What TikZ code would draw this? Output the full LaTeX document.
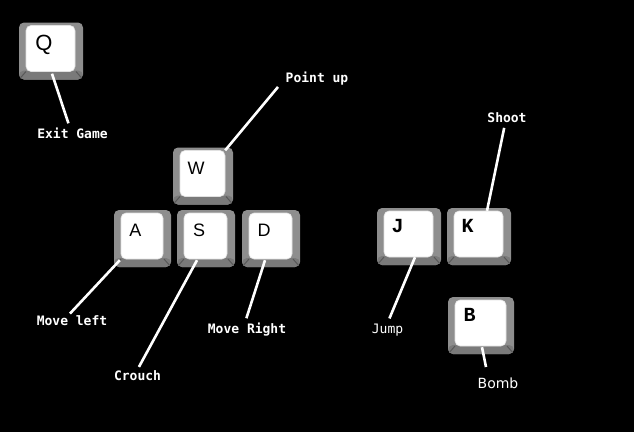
\documentclass[tikz,border=0pt]{standalone}
\usepackage{fontspec}
\newfontfamily\keysans{Liberation Sans}
\newfontfamily\keymono{Liberation Mono}
\newfontfamily\capmono{DejaVu Sans Mono}
\newfontfamily\capsans{DejaVu Sans}

\definecolor{keygray}{RGB}{142,142,142}
\definecolor{keyband}{RGB}{122,122,122}
\definecolor{keyedge}{RGB}{88,88,88}
\definecolor{keyrim}{RGB}{225,225,225}

\tikzset{
	keycap/.style={rectangle, rounded corners=5pt, fill=keygray, inner sep=0pt,
		minimum width=#1, minimum height=57pt,
		path picture={
			\fill[keyband] ([yshift=9pt]path picture bounding box.south west) rectangle (path picture bounding box.south east);
			\draw[keyedge, line width=1pt] ([xshift=7pt,yshift=8pt]path picture bounding box.south west) -- (path picture bounding box.south west);
			\draw[keyedge, line width=1pt] ([xshift=-7pt,yshift=8pt]path picture bounding box.south east) -- (path picture bounding box.south east);
			\filldraw[fill=white, draw=keyrim, line width=0.6pt, rounded corners=5pt] ([xshift=7pt,yshift=8pt]path picture bounding box.south west) rectangle ([xshift=-8pt,yshift=-3pt]path picture bounding box.north east);
		}},
	sansletter/.style={text=black, inner sep=0pt, text depth=0pt, xshift=-7pt, yshift=8pt},
	monoletter/.style={text=black, inner sep=0pt, text height=11.8pt, text depth=0pt, xshift=-11.5pt, yshift=9.5pt, font=\keymono\bfseries\fontsize{20}{20}\selectfont},
	caption/.style={text=white, inner sep=1pt, text height=9.5pt, text depth=0pt, font=\capmono\bfseries\fontsize{13}{13}\selectfont},
	lead/.style={draw=white, line width=2.6pt}
}

\begin{document}
\begin{tikzpicture}[x=1pt, y=-1pt]
	\fill[black] (0,0) rectangle (634,432);
	\useasboundingbox (0,0) rectangle (634,432);

	% Letter keys
	\foreach \k/\x/\y/\w/\s/\h in {Q/51/51/64/22/15.8, W/203/176/60/18/12.9, A/142.5/238.5/57/18/12.9, S/206/238.5/58/18/12.9, D/271/238.5/58/18/12.9} {
		\node[keycap=\w pt, label={[sansletter, text height=\h pt, font=\keysans\fontsize{\s}{\s}\selectfont]center:\k}] (K-\k) at (\x,\y) {};
	}
	\foreach \k/\x/\y/\w in {J/409/236.5/64, K/479/236.5/64, B/481/325.5/66} {
		\node[keycap=\w pt, label={[monoletter]center:\k}] (K-\k) at (\x,\y) {};
	}

	% Captions
	\node[caption] (L-Q) at (72.5,134) {Exit Game};
	\node[caption] (L-W) at (317,78) {Point up};
	\node[caption] (L-A) at (72,320.5) {Move left};
	\node[caption] (L-S) at (137.5,375.5) {Crouch};
	\node[caption] (L-D) at (247,328.5) {Move Right};
	\node[caption, font=\capmono\fontsize{13}{13}\selectfont] (L-J) at (387.5,329) {Jump};
	\node[caption] (L-K) at (507,118) {Shoot};
	\node[caption, text height=10pt, font=\capsans\fontsize{14}{14}\selectfont] (L-B) at (498,383) {Bomb};

	% Lead lines
	\draw[lead, shorten >=5pt] ([xshift=1pt,yshift=6pt]K-Q.south) -- ([xshift=-2.5pt]L-Q.north);
	\draw[lead] ([xshift=-8pt,yshift=-3pt]K-W.north east) -- ([xshift=-6.5pt,yshift=-3pt]L-W.south west);
	\draw[lead] ([xshift=6pt,yshift=7pt]K-A.south west) -- ([xshift=-2pt,yshift=1pt]L-A.north);
	\draw[lead, shorten >=3pt] ([xshift=-9pt,yshift=7pt]K-S.south) -- (L-S.north);
	\draw[lead, shorten >=4.5pt] ([xshift=-6pt,yshift=7pt]K-D.south) -- ([xshift=-2pt]L-D.north);
	\draw[lead, shorten >=5pt] ([xshift=6pt,yshift=8pt]K-J.south) -- (L-J.north);
	\draw[lead, shorten >=4pt] ([xshift=8pt,yshift=-3pt]K-K.north) -- ([xshift=-2pt]L-K.south);
	\draw[lead, shorten >=10pt] ([xshift=1pt,yshift=7pt]K-B.south) -- ([xshift=-10pt]L-B.north);
\end{tikzpicture}
\end{document}
